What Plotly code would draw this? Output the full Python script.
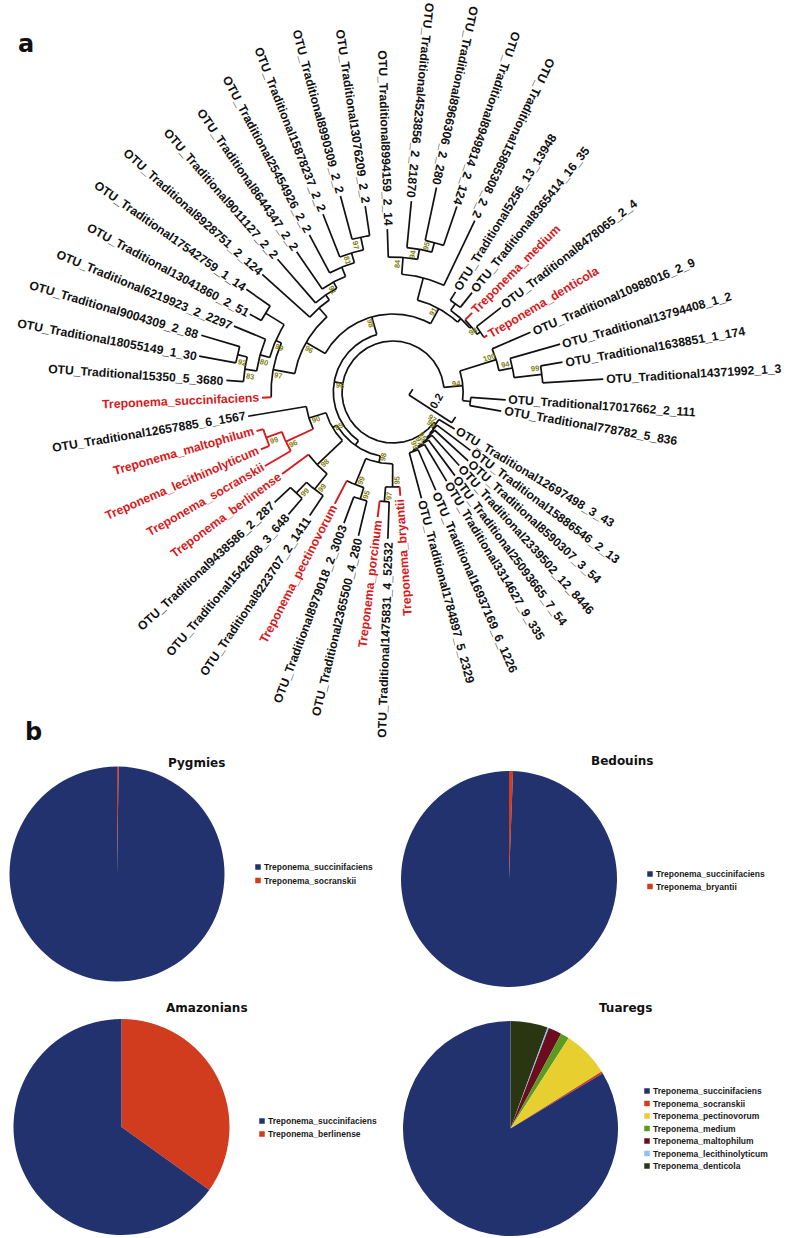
import numpy as np
import plotly.graph_objects as go

W, H = 787, 1238

# ======================= DATA: panel a (circular tree) =======================
leaf_names = [
    "OTU_Traditional12697498_3_43", "OTU_Traditional15886546_2_13", "OTU_Traditional8590307_3_54",
    "OTU_Traditional2339502_12_8446", "OTU_Traditional25093665_7_54", "OTU_Traditional3314627_9_335",
    "OTU_Traditional16937169_6_1226", "OTU_Traditional1784897_5_2329", "Treponema_bryantii",
    "OTU_Traditional1475831_4_52532", "Treponema_porcinum", "OTU_Traditional2365500_4_280",
    "OTU_Traditional8979018_2_3003", "Treponema_pectinovorum", "OTU_Traditional8223707_2_1411",
    "OTU_Traditional1542608_3_648", "OTU_Traditional9438586_2_287", "Treponema_berlinense",
    "Treponema_socranskii", "Treponema_lecithinolyticum", "Treponema_maltophilum",
    "OTU_Traditional12657885_6_1567", "Treponema_succinifaciens", "OTU_Traditional15350_5_3680",
    "OTU_Traditional18055149_1_30", "OTU_Traditional9004309_2_88", "OTU_Traditional6219923_2_2297",
    "OTU_Traditional13041860_2_51", "OTU_Traditional17542759_1_14", "OTU_Traditional8928751_2_124",
    "OTU_Traditional9011127_2_2", "OTU_Traditional8644347_2_2", "OTU_Traditional25454926_2_2",
    "OTU_Traditional15878237_2_2", "OTU_Traditional8990309_2_2", "OTU_Traditional13076209_2_2",
    "OTU_Traditional8994159_2_14", "OTU_Traditional4523856_2_21870", "OTU_Traditional8966306_2_280",
    "OTU_Traditional8949814_2_124", "OTU_Traditional15865308_2_2", "OTU_Traditional5256_13_13948",
    "OTU_Traditional8365414_16_35", "Treponema_medium", "OTU_Traditional8478065_2_4",
    "Treponema_denticola", "OTU_Traditional10988016_2_9", "OTU_Traditional13794408_1_2",
    "OTU_Traditional1638851_1_174", "OTU_Traditional14371992_1_3", "OTU_Traditional17017662_2_111",
    "OTU_Traditional778782_5_836",
]
# angular position of each leaf (degrees, counter-clockwise from 3 o'clock)
leaf_angles = [
    -31, -37, -42.5, -48, -53.5, -59, -66.5, -75, -86,
    -92, -97, -103.5, -110.5, -117.5, -124, -130.5, -137, -143.5,
    -150, -156.5, -164, -170.5, -177.5, -184, -190.5, -196.5, -202.5,
    -208.5, -215, -222, -229, -235.5, -242, -248.5, -255, -261.5,
    -268, -275.5, -282, -289, -295.5, -302, -308.5, -315, -322,
    -329, -336.5, -344, -350, -356.5, -364, -370,
]
# root-to-tip distance of each leaf (substitutions / site)
leaf_depths = [
    0.282, 0.380, 0.400, 0.388, 0.408, 0.408, 0.420, 0.431, 0.408,
    0.576, 0.494, 0.580, 0.549, 0.494, 0.584, 0.631, 0.635, 0.541,
    0.580, 0.565, 0.557, 0.576, 0.514, 0.655, 0.773, 0.784, 0.675,
    0.639, 0.702, 0.690, 0.690, 0.667, 0.698, 0.749, 0.796, 0.737,
    0.639, 0.752, 0.820, 0.769, 0.745, 0.463, 0.498, 0.439, 0.537,
    0.431, 0.588, 0.682, 0.675, 0.826, 0.443, 0.431,
]


def node(depth, kids, bs=None, red=False):
    return {"depth": depth, "kids": kids, "bs": bs, "red": red}


# topology: ints are leaf indices, nodes carry depth and bootstrap support
BR = node(0.210, [0, node(0.216, [1, node(0.222, [2, node(0.228, [3, node(0.234, [4, node(0.240, [5, node(0.247, [6, 7], 99)], 97)], 95)])])], 99)], 97)
LA = node(0.282, [node(0.373, [8, node(0.431, [9, 10], 97)], 95),
                  node(0.392, [node(0.439, [11, 12], 95), 13], 99)], 98)
LB = node(0.275, [node(0.412, [node(0.490, [14, node(0.549, [15, 16], 99)], 99), 17], 98),
                  node(0.345, [node(0.463, [18, node(0.529, [19, 20], 99, red=True)], 96, red=True), 21], 90)], 85)
LOWER = node(0.256, [LA, LB])
T6 = node(0.439, [29, node(0.463, [30, node(0.490, [31, node(0.529, [32, node(0.569, [33, node(0.620, [34, 35], 97)], 81)])], 91)])])
LT = node(0.392, [node(0.478, [22, node(0.502, [node(0.541, [node(0.588, [23, node(0.627, [24, 25], 92)], 83), 26], 80),
                                                node(0.588, [27, 28])], 99)], 97), T6], 96)
TOP = node(0.373, [node(0.463, [node(0.529, [36, node(0.569, [37, node(0.608, [38, 39], 95)], 94)], 84), 40]),
                   node(0.392, [node(0.424, [41, 42]), node(0.400, [43, node(0.416, [44, 45], 98)])])], 91)
Z = node(0.306, [LT, TOP], 98)
R1 = node(0.275, [node(0.424, [46, node(0.478, [47, node(0.588, [48, 49], 99)], 94)], 100),
                  node(0.306, [50, 51])], 94)
X = node(0.234, [LOWER, Z], 96)
TREE = node(0.200, [BR, X, R1])

SCALE_BAR_VALUE = 0.2

# ======================= DATA: panel b (pies) =======================
pie_titles = ["Pygmies", "Bedouins", "Amazonians", "Tuaregs"]
pygmies_labels = ["Treponema_succinifaciens", "Treponema_socranskii"]
pygmies_values = [99.75, 0.25]
bedouins_labels = ["Treponema_succinifaciens", "Treponema_bryantii"]
bedouins_values = [99.4, 0.6]
amazonians_labels = ["Treponema_succinifaciens", "Treponema_berlinense"]
amazonians_values = [65.1, 34.9]
tuaregs_labels = ["Treponema_succinifaciens", "Treponema_socranskii", "Treponema_pectinovorum",
                  "Treponema_medium", "Treponema_maltophilum", "Treponema_lecithinolyticum",
                  "Treponema_denticola"]
tuaregs_values = [83.6, 0.3, 7.0, 1.3, 2.0, 0.2, 5.6]
slice_colors = ["#22326f", "#d03c1d", "#e6cf2e", "#5b9a22", "#6b0d1f", "#8cc4ee", "#2a3611"]

# ======================= STYLE / LAYOUT =======================
CX, CY = 393, 392          # tree centre (px)
PX_PER_SUB = 255.0         # px per substitution/site
RED = "#d81920"
BLACK = "#111111"
OLIVE = "#7f7f10"
LABEL_FONT = "Liberation Sans, Arial, sans-serif"
LABEL_SIZE = 12.2
RED_SIZE = 12.3
LABEL_H = 15.5
LABEL_GAP = 3

pie_geom = [(117, 874, 107.5), (509, 879, 108), (121.5, 1127, 108), (510.5, 1128.5, 107.5)]
title_pos = [(196, 763), (622, 761), (207, 1008), (625, 1008)]
legend_pos = [(258, 867, 13.5), (650, 874, 12.5), (262, 1121, 13.0), (647, 1091, 12.5)]

ann = []


def norm180(a):
    return (a + 180.0) % 360.0 - 180.0


def is_leaf(n):
    return isinstance(n, int)


def is_red_leaf(i):
    return leaf_names[i].startswith("Treponema_")


def layout_angles(n):
    if is_leaf(n):
        return leaf_angles[n]
    angs = [layout_angles(k) for k in n["kids"]]
    n["angs"] = angs
    n["ang"] = (angs[0] + angs[-1]) / 2.0
    return n["ang"]


def depth_of(n):
    return leaf_depths[n] if is_leaf(n) else n["depth"]


def pt(depth, ang):
    r = depth * PX_PER_SUB
    t = np.radians(ang)
    return CX + r * np.cos(t), CY - r * np.sin(t)


lines = {"k": ([], []), "r": ([], [])}


def add_line(col, xs, ys):
    lx, ly = lines[col]
    lx.extend(list(xs) + [None])
    ly.extend(list(ys) + [None])


def draw(n):
    if is_leaf(n):
        return
    d0 = n["depth"]
    col = "r" if n["red"] else "k"
    a0, a1 = n["angs"][0], n["angs"][-1]
    aa = np.linspace(a0, a1, int(abs(a1 - a0) * 2) + 2)
    xs, ys = pt(d0, aa)
    add_line(col, xs, ys)
    for k, a in zip(n["kids"], n["angs"]):
        if is_leaf(k):
            kc = "r" if is_red_leaf(k) else "k"
        else:
            kc = "r" if k["red"] else "k"
        x0, y0 = pt(d0, a)
        x1, y1 = pt(depth_of(k), a)
        add_line(kc, [x0, x1], [y0, y1])
        draw(k)
    if n["bs"] is not None:
        bx, by = pt(d0 - 6.0 / PX_PER_SUB, n["ang"] + 2.5)
        ta = norm180(-n["ang"])
        if ta > 90:
            ta -= 180
        elif ta <= -90:
            ta += 180
        ann.append(dict(x=bx, y=by, xref="x", yref="y", text=str(n["bs"]), showarrow=False,
                        textangle=ta, font=dict(family=LABEL_FONT, size=7.5, color=OLIVE, weight="bold"),
                        xanchor="center", yanchor="middle", borderpad=0))


layout_angles(TREE)
draw(TREE)

# leaf labels
for i, name in enumerate(leaf_names):
    th = norm180(leaf_angles[i])
    t = np.radians(th)
    ux, uy = np.cos(t), -np.sin(t)
    r = leaf_depths[i] * PX_PER_SUB + LABEL_GAP
    px, py = CX + r * ux, CY + r * uy
    if ux >= 0:
        xa, x = "left", px - abs(np.sin(t)) * LABEL_H / 2
    else:
        xa, x = "right", px + abs(np.sin(t)) * LABEL_H / 2
    if uy >= 0:
        ya, y = "top", py - abs(np.cos(t)) * LABEL_H / 2
    else:
        ya, y = "bottom", py + abs(np.cos(t)) * LABEL_H / 2
    inward = th > 60 or th < -80
    ta = norm180(180 - th) if inward else norm180(-th)
    red = is_red_leaf(i)
    ann.append(dict(x=x, y=y, xref="x", yref="y", text=name, showarrow=False, textangle=ta,
                    xanchor=xa, yanchor=ya, borderpad=0, borderwidth=0,
                    font=dict(family=LABEL_FONT, size=RED_SIZE if red else LABEL_SIZE,
                              color=RED if red else BLACK, weight="bold")))

# scale bar
sb_len = SCALE_BAR_VALUE * PX_PER_SUB
sb_ang = np.radians(-33)
sbx0, sby0 = 409, 395
sbx1, sby1 = sbx0 + sb_len * np.cos(sb_ang), sby0 - sb_len * np.sin(sb_ang)
nx, ny = -np.sin(sb_ang), -np.cos(sb_ang)
add_line("k", [sbx0, sbx1], [sby0, sby1])
add_line("k", [sbx0, sbx0 + 7 * nx], [sby0, sby0 + 7 * ny])
add_line("k", [sbx1, sbx1 + 7 * nx], [sby1, sby1 + 7 * ny])
ann.append(dict(x=(sbx0 + sbx1) / 2 + 10 * nx, y=(sby0 + sby1) / 2 + 10 * ny, xref="x", yref="y",
                text=str(SCALE_BAR_VALUE), showarrow=False, textangle=-60,
                font=dict(family=LABEL_FONT, size=11, color=BLACK, weight="bold"),
                xanchor="center", yanchor="middle", borderpad=0))

fig = go.Figure()
fig.add_trace(go.Scatter(x=lines["k"][0], y=lines["k"][1], mode="lines",
                         line=dict(color=BLACK, width=1.7), hoverinfo="skip", showlegend=False))
fig.add_trace(go.Scatter(x=lines["r"][0], y=lines["r"][1], mode="lines",
                         line=dict(color=RED, width=1.9), hoverinfo="skip", showlegend=False))

# ======================= panel b: pies =======================
pies = [(pygmies_labels, pygmies_values), (bedouins_labels, bedouins_values),
        (amazonians_labels, amazonians_values), (tuaregs_labels, tuaregs_values)]
leg_x, leg_y, leg_c = [], [], []
for (labels, values), (pcx, pcy, pr), title, (tx, ty), (lx, ly, ldy) in zip(
        pies, pie_geom, pie_titles, title_pos, legend_pos):
    cols = slice_colors[:len(labels)]
    # slices are laid clockwise from 12 o'clock in reverse legend order
    fig.add_trace(go.Pie(labels=labels[::-1], values=values[::-1], sort=False, direction="clockwise",
                         rotation=0, textinfo="none", showlegend=False, hoverinfo="label+percent",
                         marker=dict(colors=cols[::-1], line=dict(width=0)),
                         domain=dict(x=[(pcx - pr) / W, (pcx + pr) / W],
                                     y=[1 - (pcy + pr) / H, 1 - (pcy - pr) / H])))
    ann.append(dict(x=tx, y=ty, xref="x", yref="y", text=title, showarrow=False,
                    font=dict(family="DejaVu Sans, sans-serif", size=12, color=BLACK, weight="bold"),
                    xanchor="center", yanchor="middle"))
    for j, lab in enumerate(labels):
        yy = ly + j * ldy
        leg_x.append(lx)
        leg_y.append(yy)
        leg_c.append(cols[j])
        ann.append(dict(x=lx + 5, y=yy, xref="x", yref="y", text=lab, showarrow=False,
                        font=dict(family=LABEL_FONT, size=8.5, color="#1a1a1a", weight="bold"),
                        xanchor="left", yanchor="middle", borderpad=0))

fig.add_trace(go.Scatter(x=leg_x, y=leg_y, mode="markers", hoverinfo="skip", showlegend=False,
                         marker=dict(symbol="square", size=5.5, color=leg_c, line=dict(width=0))))

# panel letters
ann.append(dict(x=26, y=44, xref="x", yref="y", text="a", showarrow=False,
                font=dict(family="DejaVu Sans, sans-serif", size=24, color=BLACK, weight="bold"),
                xanchor="center", yanchor="middle"))
ann.append(dict(x=33, y=732, xref="x", yref="y", text="b", showarrow=False,
                font=dict(family="DejaVu Sans, sans-serif", size=24, color=BLACK, weight="bold"),
                xanchor="center", yanchor="middle"))

fig.update_layout(
    width=W, height=H, margin=dict(l=0, r=0, t=0, b=0),
    paper_bgcolor="white", plot_bgcolor="white", showlegend=False,
    xaxis=dict(range=[0, W], visible=False, domain=[0, 1], fixedrange=True),
    yaxis=dict(range=[H, 0], visible=False, domain=[0, 1], fixedrange=True),
    annotations=ann,
)
fig.write_html("out.html", config={"displayModeBar": False},
               post_script="document.body.style.margin='0px';")
